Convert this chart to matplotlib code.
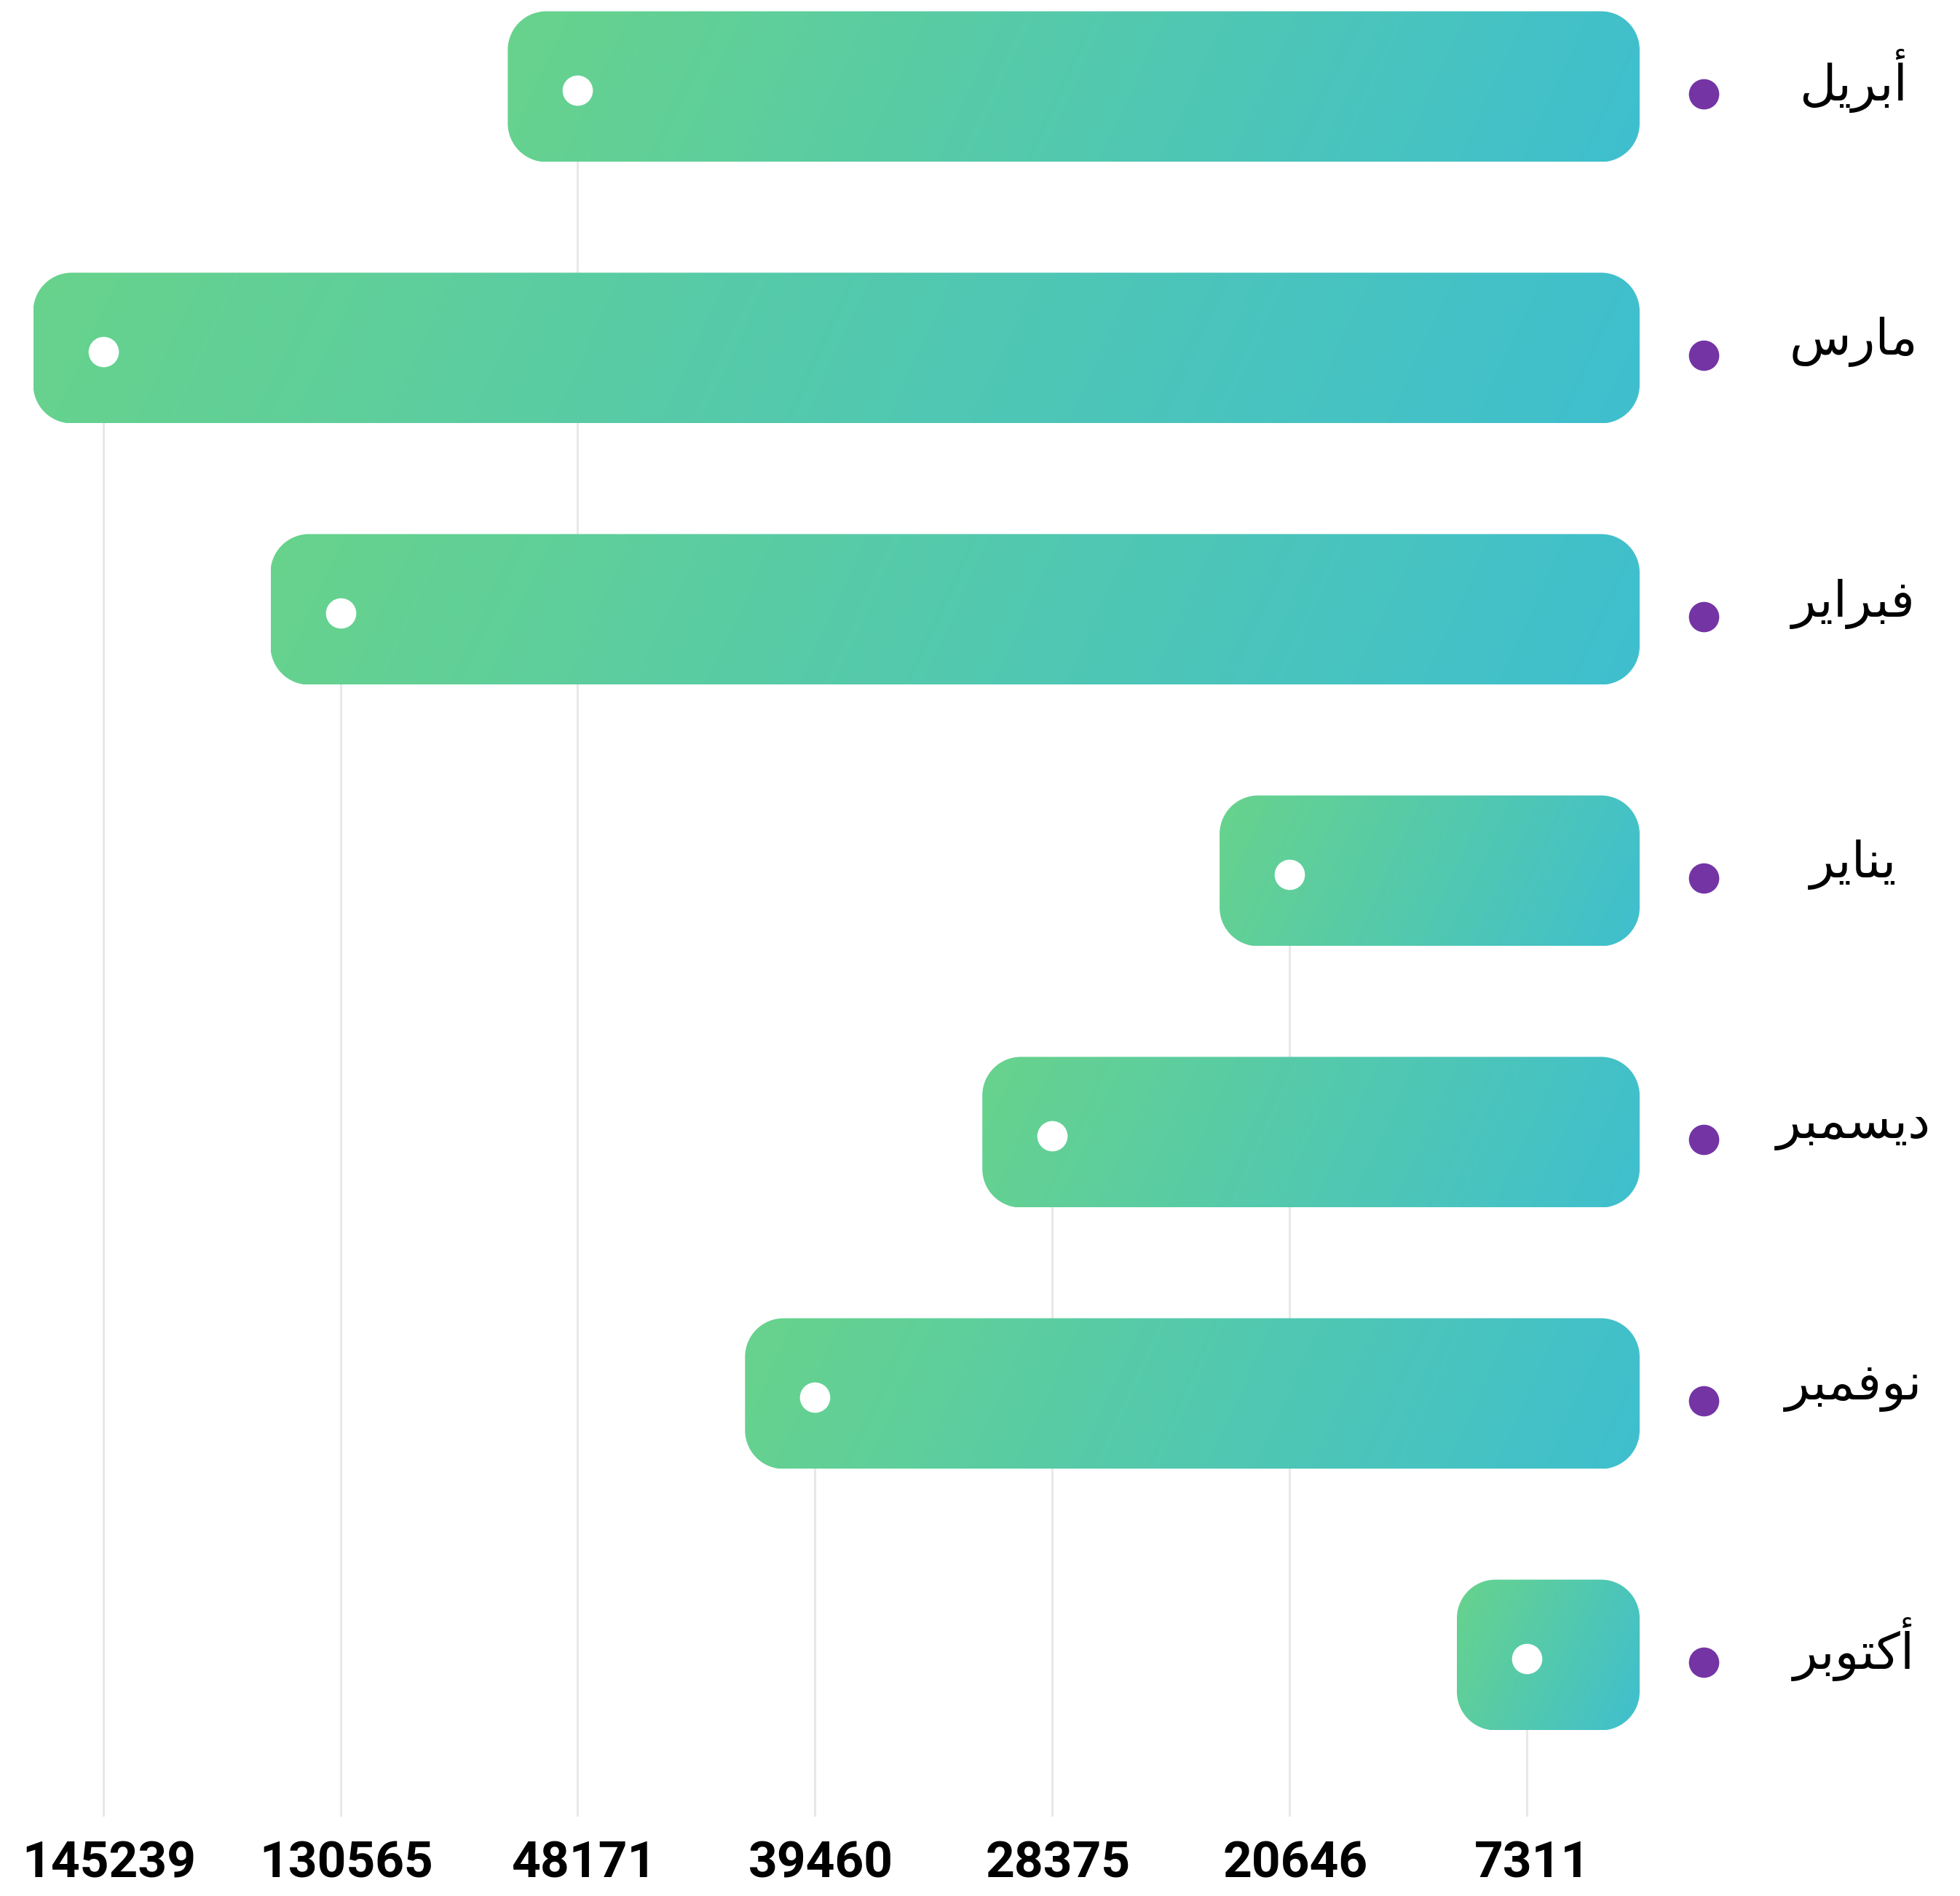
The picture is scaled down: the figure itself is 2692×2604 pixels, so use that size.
import numpy as np
import matplotlib
matplotlib.use("Agg")
import matplotlib.pyplot as plt
from matplotlib.patches import Polygon
from matplotlib.colors import to_rgb

# data, top row first
months = ["أبريل", "مارس", "فبراير", "يناير", "ديسمبر", "نوفمبر", "أكتوبر"]
values = [48171, 145239, 130565, 20646, 28375, 39460, 7311]

# arabic presentation forms: isolated, final, initial, medial
FORMS = {
    "ا": ("\uFE8D", "\uFE8E", None, None),
    "أ": ("\uFE83", "\uFE84", None, None),
    "ب": ("\uFE8F", "\uFE90", "\uFE91", "\uFE92"),
    "ت": ("\uFE95", "\uFE96", "\uFE97", "\uFE98"),
    "د": ("\uFEA9", "\uFEAA", None, None),
    "ر": ("\uFEAD", "\uFEAE", None, None),
    "س": ("\uFEB1", "\uFEB2", "\uFEB3", "\uFEB4"),
    "ف": ("\uFED1", "\uFED2", "\uFED3", "\uFED4"),
    "ك": ("\uFED9", "\uFEDA", "\uFEDB", "\uFEDC"),
    "ل": ("\uFEDD", "\uFEDE", "\uFEDF", "\uFEE0"),
    "م": ("\uFEE1", "\uFEE2", "\uFEE3", "\uFEE4"),
    "ن": ("\uFEE5", "\uFEE6", "\uFEE7", "\uFEE8"),
    "و": ("\uFEED", "\uFEEE", None, None),
    "ي": ("\uFEF1", "\uFEF2", "\uFEF3", "\uFEF4"),
}

def shape(word):
    out = []
    for i, ch in enumerate(word):
        f = FORMS[ch]
        prev_j = i > 0 and FORMS[word[i - 1]][2] is not None
        next_j = i < len(word) - 1 and f[2] is not None
        if prev_j and next_j:
            out.append(f[3])
        elif prev_j:
            out.append(f[1])
        elif next_j:
            out.append(f[2])
        else:
            out.append(f[0])
    return "".join(reversed(out))

W, H = 2692, 2604
# pixel layout: column step / row step
x0px, xstep = 141.6, 325.9
y0px, ystep = 119, 359

def px_x(p):
    return (p - x0px) / xstep

def px_y(p):
    return (p - y0px) / ystep

def rounded_rect(left, top, w, h, r_px):
    # circular corners, r given in pixels, box in data units (y grows down)
    rx, ry = r_px / xstep, r_px / ystep
    pts = []
    corners = [
        (left + w - rx, top + ry, -90, 0),
        (left + w - rx, top + h - ry, 0, 90),
        (left + rx, top + h - ry, 90, 180),
        (left + rx, top + ry, 180, 270),
    ]
    for cx, cy, a0, a1 in corners:
        a = np.radians(np.linspace(a0, a1, 30))
        pts += list(zip(cx + rx * np.cos(a), cy + ry * np.sin(a)))
    return Polygon(pts, closed=True, fc="none", ec="none", zorder=2)

order = sorted(range(len(values)), key=lambda i: -values[i])
rank = {i: r for r, i in enumerate(order)}

fig = plt.figure(figsize=(W / 100, H / 100), dpi=100)
ax = fig.add_axes([0, 0, 1, 1])
ax.set_xlim(px_x(0), px_x(W))
ax.set_ylim(px_y(H), px_y(0))
ax.axis("off")

c_left = np.array(to_rgb("#68D38C"))
c_right = np.array(to_rgb("#3FBFCF"))

bar_right = px_x(2252)
bar_h = 207 / ystep
pad_left = 96 / xstep
y_bottom_line = px_y(2493)

for i, (m, v) in enumerate(zip(months, values)):
    xr = rank[i]
    left = xr - pad_left
    top = i - bar_h / 2

    ax.plot([xr, xr], [i, y_bottom_line], color="#e8e8e8", lw=2.2, zorder=1)

    patch = rounded_rect(left, top, bar_right - left, bar_h, 53)
    ax.add_patch(patch)

    # gradient, slightly diagonal in pixel space
    wpx = (bar_right - left) * xstep
    hpx = bar_h * ystep
    gx, gy = np.meshgrid(np.linspace(0, wpx, 300), np.linspace(0, hpx, 40))
    proj = gx + 0.45 * gy
    t = (proj - proj.min()) / (proj.max() - proj.min())
    img = c_left[None, None, :] * (1 - t[..., None]) + c_right[None, None, :] * t[..., None]
    im = ax.imshow(img, extent=(left, bar_right, top + bar_h, top), origin="upper",
                   interpolation="bilinear", aspect="auto", zorder=2)
    im.set_clip_path(patch)

    ax.scatter([xr], [i + 5 / ystep], s=900, color="white", zorder=4, linewidths=0)
    ax.scatter([px_x(2340)], [i + 10 / ystep], s=900, color="#7434A4", zorder=4, linewidths=0)
    ax.text(px_x(2546), i - 8 / ystep, shape(m), fontsize=50, family="DejaVu Sans",
            ha="center", va="center", color="#000000", zorder=5)

for i, v in enumerate(values):
    ax.text(rank[i] + 8 / xstep, px_y(2560), str(v), fontsize=50, family="Roboto",
            fontweight="bold", ha="center", va="center", color="#000000")

fig.savefig("out.png", dpi=100, facecolor="white")
